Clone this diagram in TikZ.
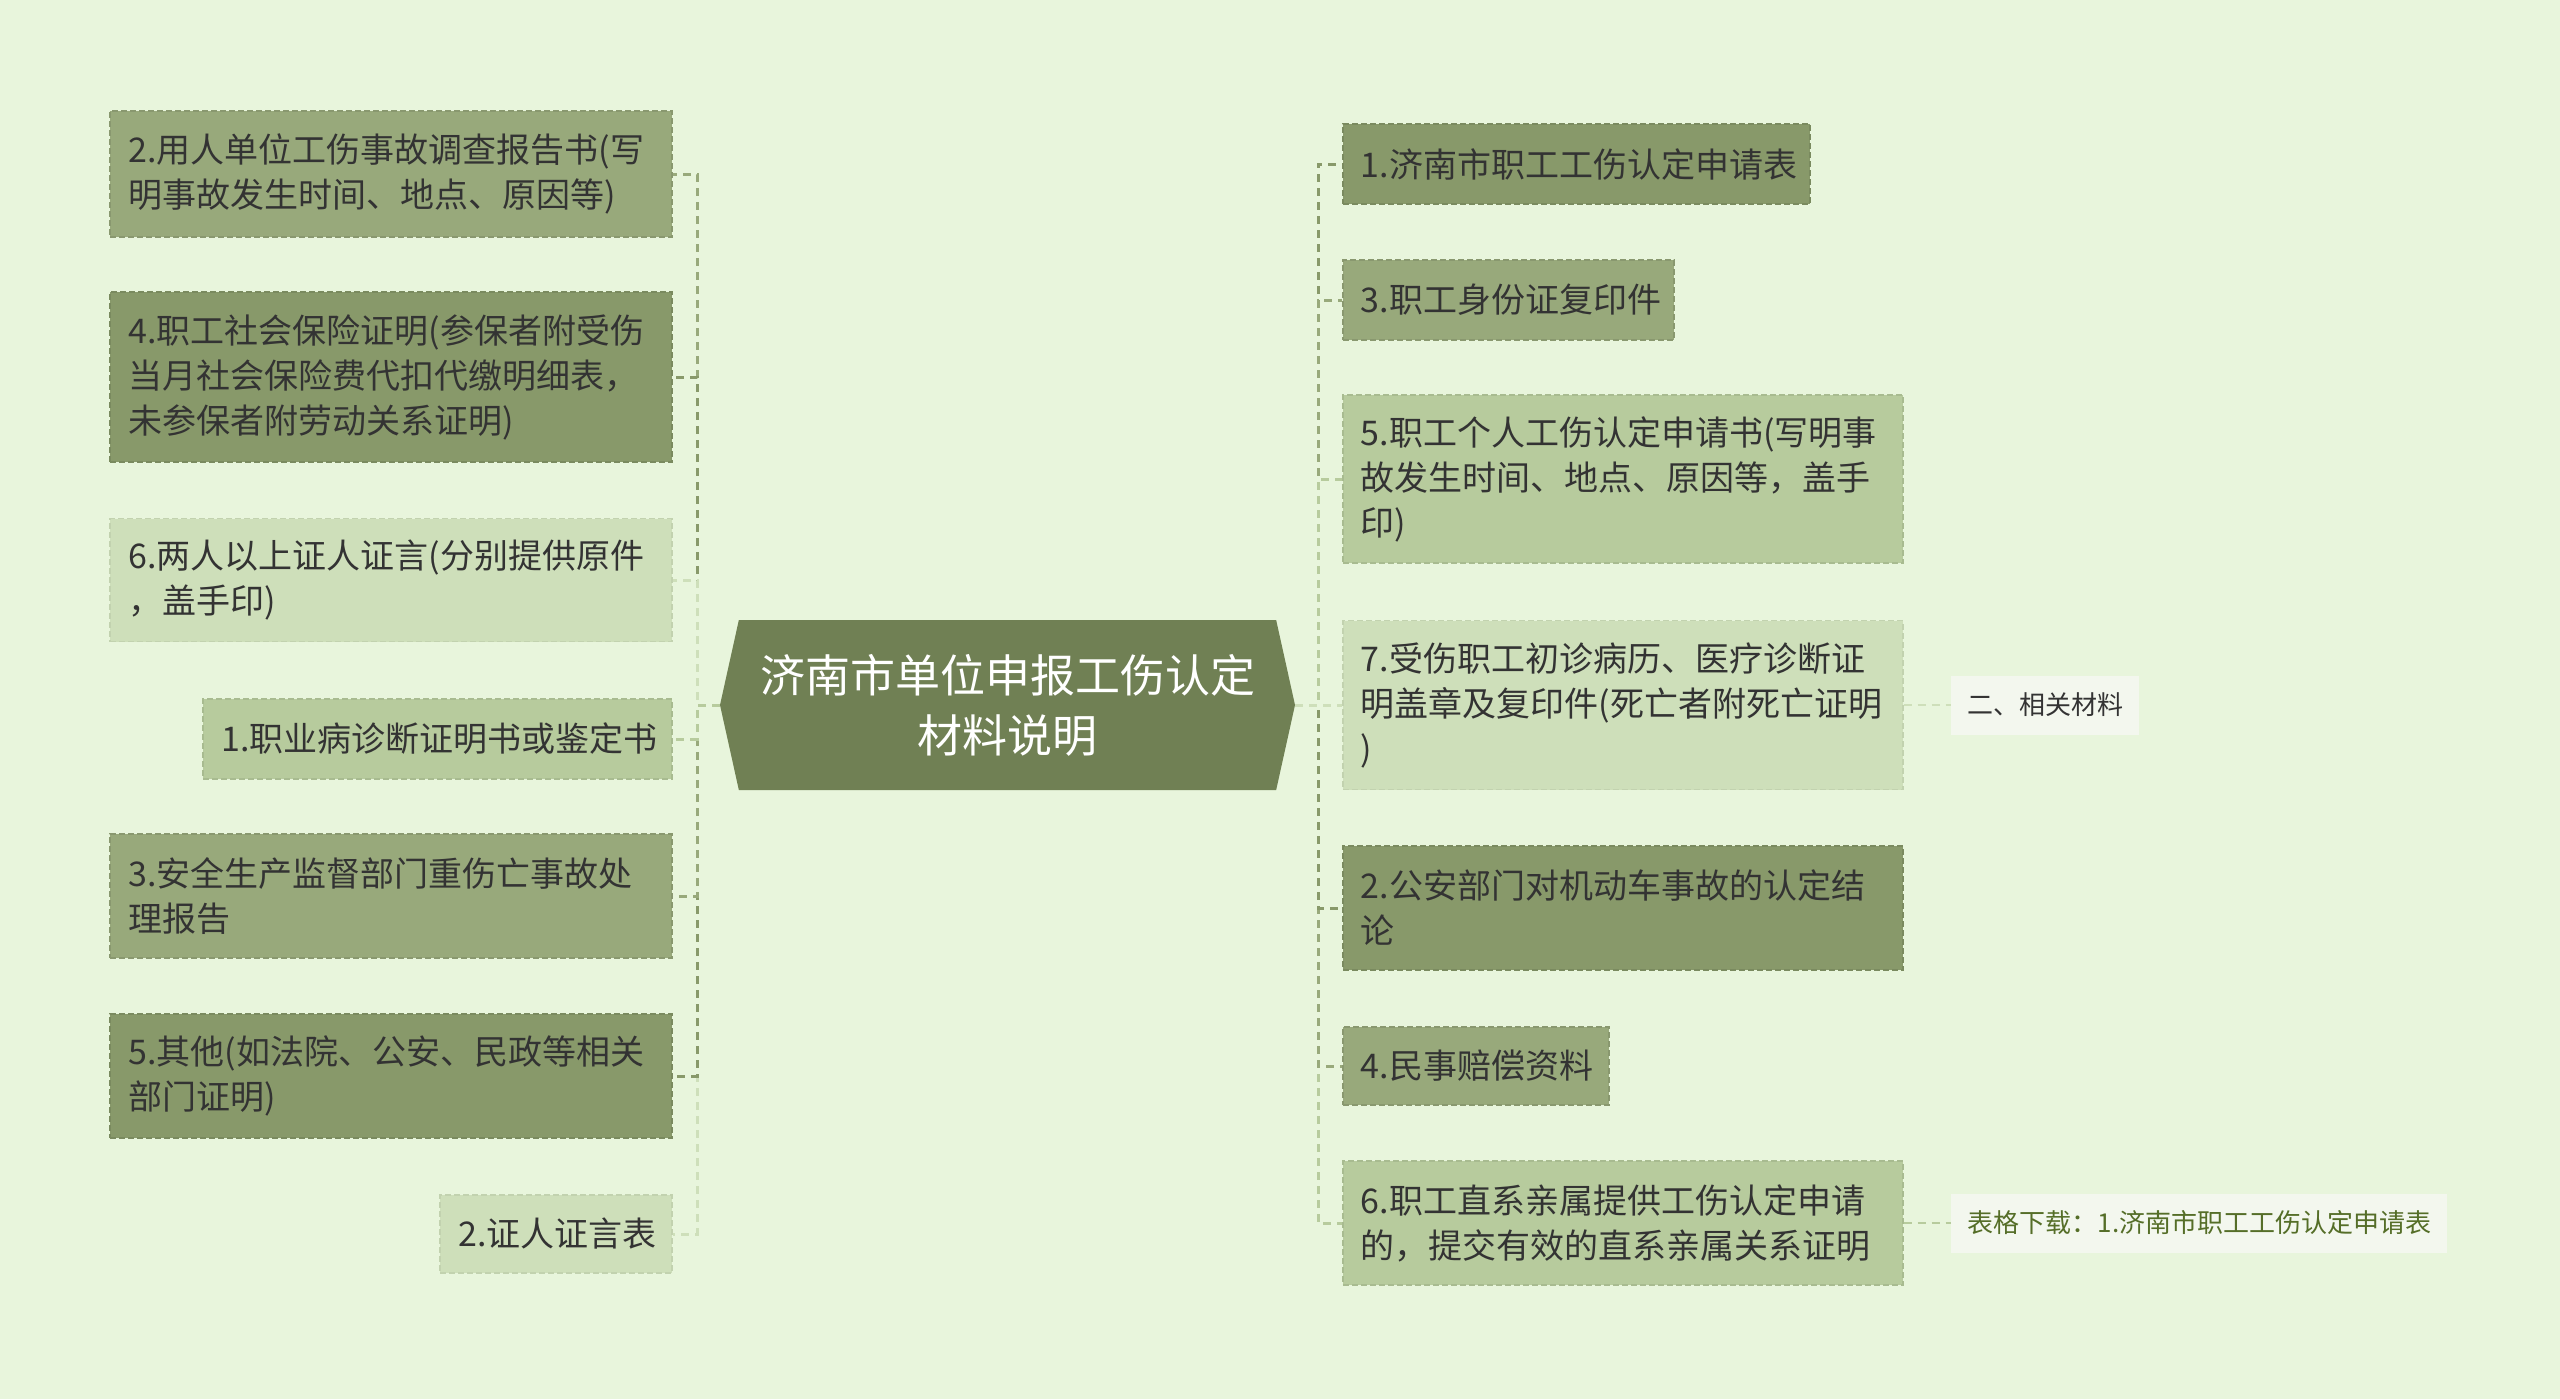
\documentclass[tikz,border=0pt]{standalone}
\usepackage{fontspec}
\setmainfont{Noto Sans CJK SC}
\usetikzlibrary{shapes.symbols}
\definecolor{bg_green}{RGB}{232, 245, 220}
\definecolor{root_green}{RGB}{112, 128, 84}
\definecolor{box_a}{RGB}{136, 153, 106}
\definecolor{box_b}{RGB}{152, 169, 123}
\definecolor{box_c}{RGB}{183, 203, 157}
\definecolor{box_d}{RGB}{206, 223, 186}
\definecolor{tag_fill}{RGB}{243, 247, 238}
\definecolor{link_text}{RGB}{85, 110, 40}
\definecolor{item_text}{RGB}{51, 51, 51}
\tikzstyle{root}=[signal,signal to=west and east,signal pointer angle=155,
  fill=root_green,text=white,inner sep=0pt,minimum width=287.5pt,
  minimum height=85pt,align=center,font=\fontsize{22.5pt}{30pt}\selectfont]
\tikzstyle{item}=[dash pattern=on 3pt off 1.5pt,line width=0.8pt,inner xsep=9pt,
  inner ysep=0pt,align=left,text=item_text,font=\fontsize{17pt}{22.5pt}\selectfont]
\tikzstyle{an}=[item,fill=box_a,draw=box_a!90!black]
\tikzstyle{bn}=[item,fill=box_b,draw=box_b!90!black]
\tikzstyle{cn}=[item,fill=box_c,draw=box_c!92!black]
\tikzstyle{dn}=[item,fill=box_d,draw=box_d!94!black]
\tikzstyle{tn}=[fill=tag_fill,inner xsep=8pt,inner ysep=0pt,minimum height=29.5pt,
  text=item_text,font=\fontsize{13pt}{16pt}\selectfont]
\tikzstyle{kn}=[tn,text=link_text]
\tikzstyle{link}=[line width=1.5pt,dash pattern=on 4pt off 3pt]
\tikzstyle{ae}=[link,draw=box_a]
\tikzstyle{be}=[link,draw=box_b]
\tikzstyle{ce}=[link,draw=box_c]
\tikzstyle{de}=[link,draw=box_d]
\tikzstyle{none}=[]

\begin{document}
\begin{tikzpicture}[x=0.5pt,y=-0.5pt]
            \fill [bg_green] (0, 0) rectangle (2560, 1399);
            \useasboundingbox (0, 0) rectangle (2560, 1399);
            \node [style=root] (0) at (1007.5, 705) {济南市单位申报工伤认定\\材料说明};
            % left side
            \node [style=bn,anchor=east,minimum width=281pt,text width=263pt,minimum height=63pt] (1) at (673, 174) {2.用人单位工伤事故调查报告书(写\\明事故发生时间、地点、原因等)};
            \node [style=an,anchor=east,minimum width=281pt,text width=263pt,minimum height=85pt] (2) at (673, 377) {4.职工社会保险证明(参保者附受伤\\当月社会保险费代扣代缴明细表，\\未参保者附劳动关系证明)};
            \node [style=dn,anchor=east,minimum width=281pt,text width=263pt,minimum height=61.5pt] (3) at (673, 580) {6.两人以上证人证言(分别提供原件\\，盖手印)};
            \node [style=cn,anchor=east,minimum width=234.5pt,text width=216.5pt,minimum height=40pt] (4) at (673, 739) {1.职业病诊断证明书或鉴定书};
            \node [style=bn,anchor=east,minimum width=281pt,text width=263pt,minimum height=62pt] (5) at (673, 896) {3.安全生产监督部门重伤亡事故处\\理报告};
            \node [style=an,anchor=east,minimum width=281pt,text width=263pt,minimum height=62pt] (6) at (673, 1076) {5.其他(如法院、公安、民政等相关\\部门证明)};
            \node [style=dn,anchor=east,minimum width=116pt,text width=98pt,minimum height=39pt] (7) at (673, 1234) {2.证人证言表};
            % right side
            \node [style=an,anchor=west,minimum width=233.5pt,text width=215.5pt,minimum height=40pt] (8) at (1342, 164) {1.济南市职工工伤认定申请表};
            \node [style=bn,anchor=west,minimum width=165.5pt,text width=147.5pt,minimum height=40pt] (9) at (1342, 300) {3.职工身份证复印件};
            \node [style=cn,anchor=west,minimum width=280pt,text width=262pt,minimum height=84pt] (10) at (1342, 479) {5.职工个人工伤认定申请书(写明事\\故发生时间、地点、原因等，盖手\\印)};
            \node [style=dn,anchor=west,minimum width=280pt,text width=262pt,minimum height=84.5pt] (11) at (1342, 705) {7.受伤职工初诊病历、医疗诊断证\\明盖章及复印件(死亡者附死亡证明\\)};
            \node [style=an,anchor=west,minimum width=280pt,text width=262pt,minimum height=62pt] (12) at (1342, 908) {2.公安部门对机动车事故的认定结\\论};
            \node [style=bn,anchor=west,minimum width=133pt,text width=115pt,minimum height=39pt] (13) at (1342, 1066) {4.民事赔偿资料};
            \node [style=cn,anchor=west,minimum width=280pt,text width=262pt,minimum height=62pt] (14) at (1342, 1223) {6.职工直系亲属提供工伤认定申请\\的，提交有效的直系亲属关系证明};
            \node [style=tn,anchor=west,minimum width=92.5pt] (15) at (1951, 705) {二、相关材料};
            \node [style=kn,anchor=west,minimum width=248pt] (16) at (1951, 1223) {表格下载：1.济南市职工工伤认定申请表};
            \node [style=none] (17) at (697, 705) {};
            \node [style=none] (18) at (1318, 705) {};
            % outer branches first
            \draw [style=be] (0.west) -- (17.center) |- (1);
            \draw [style=de] (0.west) -- (17.center) |- (7);
            \draw [style=ae] (0.west) -- (17.center) |- (6);
            \draw [style=ae] (0.west) -- (17.center) |- (2);
            \draw [style=be] (0.west) -- (17.center) |- (5);
            \draw [style=de] (0.west) -- (17.center) |- (3);
            \draw [style=ce] (0.west) -- (17.center) |- (4);
            \draw [style=ae] (0.east) -- (18.center) |- (8);
            \draw [style=ce] (0.east) -- (18.center) |- (14);
            \draw [style=be] (0.east) -- (18.center) |- (9);
            \draw [style=be] (0.east) -- (18.center) |- (13);
            \draw [style=ce] (0.east) -- (18.center) |- (10);
            \draw [style=ae] (0.east) -- (18.center) |- (12);
            \draw [style=de] (0.east) -- (18.center) |- (11);
            \draw [style=de,line width=1pt] (11) to (15);
            \draw [style=ce,line width=1pt] (14) to (16);
    \end{tikzpicture}
\end{document}
